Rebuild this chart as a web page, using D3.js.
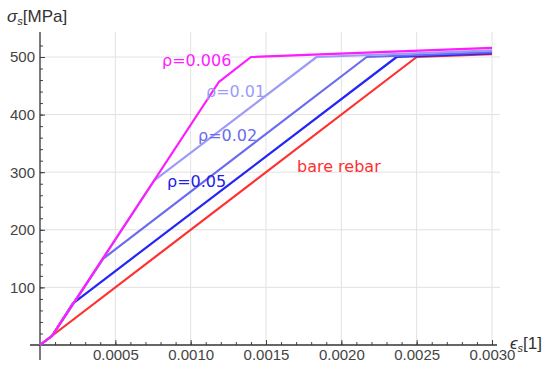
<!DOCTYPE html>
<html>
<head>
<meta charset="utf-8">
<script src="https://cdn.jsdelivr.net/npm/d3@7"></script>
<style>
  body { margin: 0; background: #fff; }
  svg { display: block; }
</style>
</head>
<body>
<div id="chart"></div>
<script>
// strain / stress points
const bareStrain = [0, 0.0025, 0.003];
const bareStress = [0, 500, 505];
const rho005Strain = [0, 0.00008, 0.000217, 0.002367, 0.003];
const rho005Stress = [0, 16, 72, 500, 506.3];
const rho002Strain = [0, 0.00008, 0.00042, 0.002168, 0.003];
const rho002Stress = [0, 16, 150, 500, 508.3];
const rho001Strain = [0, 0.00008, 0.000759, 0.001836, 0.003];
const rho001Stress = [0, 16, 286, 500, 511.6];
const rho0006Strain = [0, 0.00008, 0.001188, 0.0014, 0.003];
const rho0006Stress = [0, 16, 457, 500, 516];

const xTicks = [0.0005, 0.0010, 0.0015, 0.0020, 0.0025, 0.0030];
const xTickLabels = ["0.0005", "0.0010", "0.0015", "0.0020", "0.0025", "0.0030"];
const yTicks = [100, 200, 300, 400, 500];

const width = 550;
const height = 374;

const x = d3.scaleLinear().domain([0, 0.003]).range([40, 492]);
const y = d3.scaleLinear().domain([0, 500]).range([345, 57]);

const svg = d3.select("#chart")
  .append("svg")
  .attr("width", width)
  .attr("height", height);

// grid
svg.append("g")
  .selectAll("line")
  .data(xTicks)
  .enter().append("line")
  .attr("x1", d => x(d)).attr("x2", d => x(d))
  .attr("y1", y(0)).attr("y2", 32)
  .attr("stroke", "#e2e2e2").attr("stroke-width", 1);

svg.append("g")
  .selectAll("line")
  .data(yTicks)
  .enter().append("line")
  .attr("x1", x(0)).attr("x2", 500)
  .attr("y1", d => y(d)).attr("y2", d => y(d))
  .attr("stroke", "#e2e2e2").attr("stroke-width", 1);

// axes
const xMinor = d3.range(1, 31).map(i => i * 0.0001);
const yMinor = d3.range(1, 27).map(i => i * 20);
const tickFont = "Liberation Sans, Arial, sans-serif";

svg.append("g")
  .attr("transform", `translate(0,${y(0)})`)
  .call(d3.axisBottom(x).tickValues(xMinor).tickSize(-3).tickFormat(""))
  .call(g => g.select(".domain").remove())
  .call(g => g.selectAll("line").attr("stroke", "#444"));

svg.append("g")
  .attr("transform", `translate(0,${y(0)})`)
  .call(d3.axisBottom(x).tickValues(xTicks).tickSize(-5).tickPadding(4)
    .tickFormat((d, i) => xTickLabels[i]))
  .call(g => g.select(".domain").remove())
  .call(g => g.selectAll("line").attr("stroke", "#444"))
  .call(g => g.selectAll("text")
    .attr("font-family", tickFont)
    .attr("font-size", 15).attr("fill", "#444"));

svg.append("g")
  .attr("transform", `translate(${x(0)},0)`)
  .call(d3.axisLeft(y).tickValues(yMinor).tickSize(-3).tickFormat(""))
  .call(g => g.select(".domain").remove())
  .call(g => g.selectAll("line").attr("stroke", "#444"));

svg.append("g")
  .attr("transform", `translate(${x(0)},0)`)
  .call(d3.axisLeft(y).tickValues(yTicks).tickSize(-5).tickPadding(5))
  .call(g => g.select(".domain").remove())
  .call(g => g.selectAll("line").attr("stroke", "#444"))
  .call(g => g.selectAll("text")
    .attr("font-family", tickFont)
    .attr("font-size", 15).attr("fill", "#444"));

// axis lines
svg.append("line")
  .attr("x1", 30).attr("x2", 497)
  .attr("y1", y(0)).attr("y2", y(0))
  .attr("stroke", "#333").attr("stroke-width", 1.3);
svg.append("line")
  .attr("x1", x(0)).attr("x2", x(0))
  .attr("y1", 360).attr("y2", 32)
  .attr("stroke", "#333").attr("stroke-width", 1.3);

// axis titles
const yTitle = svg.append("text")
  .attr("x", 7).attr("y", 22)
  .attr("font-family", tickFont)
  .attr("font-size", 17).attr("fill", "#333");
yTitle.append("tspan").attr("font-style", "italic").text("σ");
yTitle.append("tspan").attr("font-style", "italic").attr("font-size", 11).attr("dy", 3).text("s");
yTitle.append("tspan").attr("dy", -3).text("[MPa]");

const xTitle = svg.append("text")
  .attr("x", 510).attr("y", 349)
  .attr("font-family", tickFont)
  .attr("font-size", 17).attr("fill", "#333");
xTitle.append("tspan").attr("font-style", "italic").text("ϵ");
xTitle.append("tspan").attr("font-style", "italic").attr("font-size", 11).attr("dy", 3).text("s");
xTitle.append("tspan").attr("dy", -3).text("[1]");

// curves
const series = [
  { strain: bareStrain, stress: bareStress, color: "#ff3030" },
  { strain: rho005Strain, stress: rho005Stress, color: "#2525f5" },
  { strain: rho002Strain, stress: rho002Stress, color: "#6b6bef" },
  { strain: rho001Strain, stress: rho001Stress, color: "#9c9cf8" },
  { strain: rho0006Strain, stress: rho0006Stress, color: "#ff1aff" }
];

const line = d3.line().x(d => x(d[0])).y(d => y(d[1]));

svg.append("g")
  .selectAll("path")
  .data(series)
  .enter().append("path")
  .attr("d", s => line(s.strain.map((v, i) => [v, s.stress[i]])))
  .attr("fill", "none")
  .attr("stroke", s => s.color)
  .attr("stroke-width", 2.2)
  .attr("stroke-linejoin", "round");

// labels
const labels = [
  { text: "ρ=0.006", lx: 162, ly: 66, color: "#ff1aff" },
  { text: "ρ=0.01", lx: 206, ly: 97, color: "#9c9cf8" },
  { text: "ρ=0.02", lx: 198, ly: 141, color: "#6b6bef" },
  { text: "ρ=0.05", lx: 167, ly: 187, color: "#2020e8" },
  { text: "bare rebar", lx: 297, ly: 172, color: "#ff3030" }
];

svg.append("g")
  .selectAll("text")
  .data(labels)
  .enter().append("text")
  .attr("x", d => d.lx).attr("y", d => d.ly)
  .attr("font-family", "DejaVu Sans, Verdana, sans-serif")
  .attr("font-size", 16)
  .attr("fill", d => d.color)
  .text(d => d.text);
</script>
</body>
</html>
